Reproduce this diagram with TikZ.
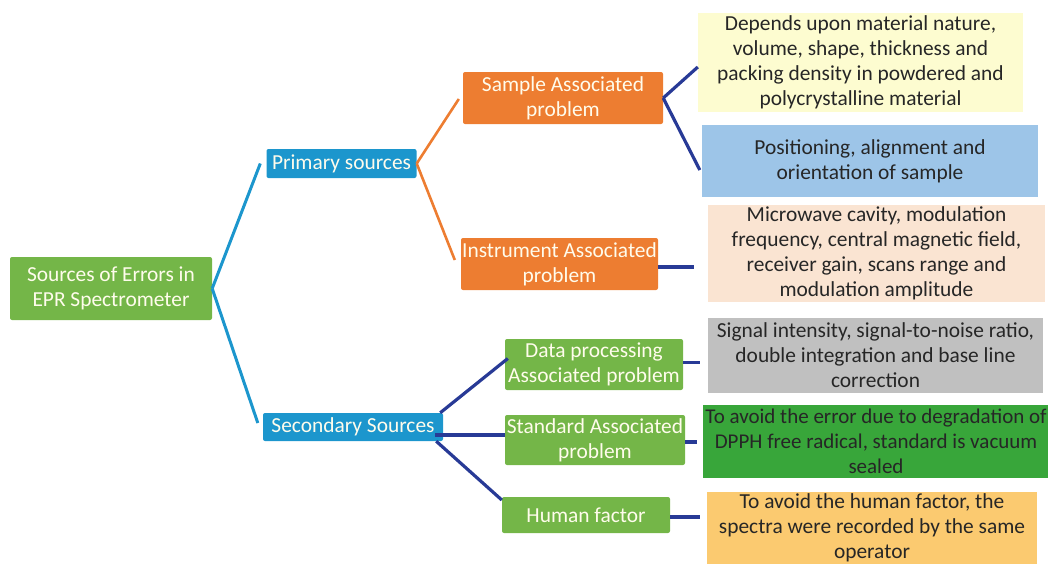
\documentclass[tikz,border=0pt]{standalone}
\usepackage{fontspec}
\setmainfont{Carlito}
\usetikzlibrary{calc}
\definecolor{grn}{RGB}{116,182,72}
\definecolor{blu}{RGB}{28,150,205}
\definecolor{org}{RGB}{237,125,49}
\definecolor{navy}{RGB}{40,58,150}
\definecolor{cyel}{RGB}{253,252,208}
\definecolor{clbl}{RGB}{157,197,232}
\definecolor{cpch}{RGB}{250,228,210}
\definecolor{cgry}{RGB}{192,192,192}
\definecolor{cdgr}{RGB}{56,166,58}
\definecolor{coy}{RGB}{251,202,112}
\definecolor{wtxt}{RGB}{255,252,236}
\begin{document}
\begin{tikzpicture}[x=1pt,y=-1pt,
  box/.style={rectangle,inner sep=0pt,align=center,font=\fontsize{21.4}{25}\selectfont},
  lbox/.style={box,rounded corners=2pt,text=wtxt},
  rbox/.style={box,text=black!85},
  gbox/.style={lbox,fill=grn},
  bbox/.style={lbox,fill=blu},
  obox/.style={lbox,fill=org},
  bl/.style={blu,line width=3pt},
  ol/.style={org,line width=2.6pt},
  nl/.style={navy,line width=3.2pt}]
\useasboundingbox (0,0) rectangle (1048,563);
% level 0
\node[gbox,minimum width=202pt,minimum height=63pt] (root) at (111,288.5) {Sources of Errors in\\EPR Spectrometer};
% level 1
\node[bbox,minimum width=150pt,minimum height=29pt] (prim) at (341.5,163.5) {Primary sources};
\node[bbox,minimum width=180pt,minimum height=28pt] (sec) at (353,427) {Secondary Sources};
% level 2
\node[obox,minimum width=200pt,minimum height=52pt] (samp) at (563,98) {Sample Associated\\problem};
\node[obox,minimum width=197pt,minimum height=52pt] (inst) at (559.5,264) {Instrument Associated\\problem};
\node[gbox,minimum width=178pt,minimum height=51pt] (data) at (594,364.5) {Data processing\\Associated problem};
\node[gbox,minimum width=180pt,minimum height=50pt] (std) at (595,440) {Standard Associated\\problem};
\node[gbox,minimum width=168pt,minimum height=36pt] (hum) at (586,515) {Human factor};
% level 3
\node[rbox,fill=cyel,minimum width=325pt,minimum height=99pt] (yel) at (860.5,62.5) {Depends upon material nature,\\volume, shape, thickness and\\packing density in powdered and\\polycrystalline material};
\node[rbox,fill=clbl,minimum width=336pt,minimum height=72pt] (lbl) at (870,161) {Positioning, alignment and\\orientation of sample};
\node[rbox,fill=cpch,minimum width=337pt,minimum height=97pt] (pch) at (876.5,253.5) {Microwave cavity, modulation\\frequency, central magnetic field,\\receiver gain, scans range and\\modulation amplitude};
\node[rbox,fill=cgry,minimum width=335pt,minimum height=75pt] (gry) at (875.5,355.5) {Signal intensity, signal-to-noise ratio,\\double integration and base line\\correction};
\node[rbox,fill=cdgr,minimum width=346pt,minimum height=73pt,font=\fontsize{21}{25}\selectfont] (dgr) at (876,441.5) {To avoid the error due to degradation of\\DPPH free radical, standard is vacuum\\sealed};
\node[rbox,fill=coy,minimum width=330pt,minimum height=72pt] (oy) at (872,527.5) {To avoid the human factor, the\\spectra were recorded by the same\\operator};
% connectors
\draw[bl] (root.east) -- ($(prim.west)+(-6,0)$);
\draw[bl] (root.east) -- ($(sec.west)+(-5,-4)$);
\draw[ol] (prim.east) -- ($(samp.west)+(-4,1)$);
\draw[ol] (prim.east) -- ($(inst.west)+(-6,-4)$);
\draw[nl] (samp.east) -- ($(yel.west)+(0,4.5)$);
\draw[nl] (samp.east) -- ($(lbl.west)+(-2,9)$);
\draw[nl,shorten >=14pt] ($(inst.east)+(0,3)$) -- ($(inst.east -| pch.west)+(0,3)$);
\draw[nl] ($(sec.north east)+(-3,0)$) -- ($(data.west)+(3,-6)$);
\draw[nl] ($(sec.east)+(-8,8)$) -- ($(std.west)+(0,-5)$);
\draw[nl] ($(sec.south east)+(-7,0)$) -- ($(hum.west)+(0,-15)$);
\draw[nl,shorten >=8pt] ($(data.east)+(0,-2)$) -- ($(data.east -| gry.west)+(0,-2)$);
\draw[nl,shorten >=6pt] ($(std.east)+(0,2)$) -- ($(std.east -| dgr.west)+(0,2)$);
\draw[nl,shorten >=7pt] ($(hum.east)+(0,2)$) -- ($(hum.east -| oy.west)+(0,2)$);
\end{tikzpicture}
\end{document}
